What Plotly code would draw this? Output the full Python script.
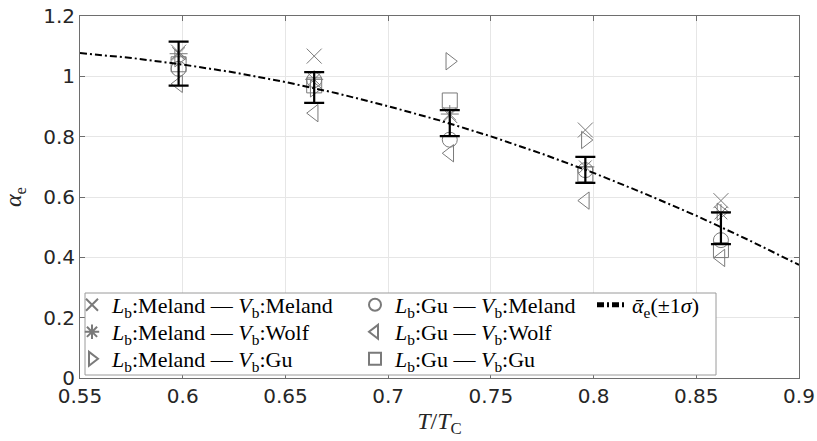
import plotly.graph_objects as go

# ---- data ----
T = [0.598, 0.664, 0.730, 0.796, 0.862]
meland_meland = [1.080, 1.067, 0.870, 0.822, 0.588]
meland_wolf   = [1.075, 0.990, 0.875, 0.700, 0.547]
meland_gu     = [1.060, 0.960, 1.050, 0.789, 0.551]
gu_meland     = [1.025, 0.988, 0.790, 0.689, 0.457]
gu_wolf       = [0.975, 0.878, 0.745, 0.588, 0.398]
gu_gu         = [1.040, 0.970, 0.920, 0.675, 0.424]

mean_alpha = [1.042, 0.963, 0.845, 0.690, 0.4965]
sigma      = [0.073, 0.051, 0.043, 0.043, 0.0525]

curve_T     = [0.55, 0.575, 0.60, 0.625, 0.65, 0.675, 0.70, 0.725, 0.75,
               0.775, 0.80, 0.825, 0.85, 0.875, 0.90]
curve_alpha = [1.077, 1.061, 1.039, 1.013, 0.981, 0.944, 0.901, 0.854, 0.801,
               0.743, 0.680, 0.611, 0.538, 0.459, 0.375]

x_ticks = [0.55, 0.6, 0.65, 0.7, 0.75, 0.8, 0.85, 0.9]
y_ticks = [0, 0.2, 0.4, 0.6, 0.8, 1.0, 1.2]
x_ticklabels = ["0.55", "0.6", "0.65", "0.7", "0.75", "0.8", "0.85", "0.9"]
y_ticklabels = ["0", "0.2", "0.4", "0.6", "0.8", "1", "1.2"]

series_names = [
    "<i>L</i><sub>b</sub>:Meland — <i>V</i><sub>b</sub>:Meland",
    "<i>L</i><sub>b</sub>:Meland — <i>V</i><sub>b</sub>:Wolf",
    "<i>L</i><sub>b</sub>:Meland — <i>V</i><sub>b</sub>:Gu",
    "<i>L</i><sub>b</sub>:Gu — <i>V</i><sub>b</sub>:Meland",
    "<i>L</i><sub>b</sub>:Gu — <i>V</i><sub>b</sub>:Wolf",
    "<i>L</i><sub>b</sub>:Gu — <i>V</i><sub>b</sub>:Gu",
]
series_values = [meland_meland, meland_wolf, meland_gu, gu_meland, gu_wolf, gu_gu]
series_symbols = ["x-thin-open", "asterisk-open", "triangle-right-open",
                  "circle-open", "triangle-left-open", "square-open"]
mean_name = "<i>ᾱ</i><sub>e</sub>(±1<i>σ</i>)"

GRAY = "#7a7a7a"
SERIF = "Liberation Serif"

# plot area in px: x 80..799, y 16..378
L, R, TOP, BOT = 80, 799, 16, 378
W, H = R - L, BOT - TOP

def px(xp):
    return (xp - L) / W

def py(yp):
    return (BOT - yp) / H

# legend cell positions (legend box left x, row centre y) in px
leg_x = [72, 72, 72, 355, 355, 355, 592]
leg_y = [305, 332, 359, 305, 332, 359, 305]

fig = go.Figure()

legends = {}
for i, (name, vals, sym) in enumerate(zip(series_names, series_values, series_symbols)):
    key = "legend" if i == 0 else f"legend{i + 1}"
    fig.add_trace(go.Scatter(
        x=T, y=vals, mode="markers", name=name, legend=key,
        marker=dict(symbol=sym, size=15, color=GRAY,
                    line=dict(color=GRAY, width=1)),
    ))

fig.add_trace(go.Scatter(
    x=curve_T, y=curve_alpha, mode="lines",
    name=mean_name, legend="legend7",
    line=dict(color="black", width=2, dash="7px,3px,2px,3px"),
))

fig.add_trace(go.Scatter(
    x=T, y=mean_alpha, mode="markers", showlegend=False,
    marker=dict(size=2, color="black"),
    error_y=dict(type="data", array=sigma, visible=True,
                 color="black", thickness=2.2, width=10),
))

fig.add_shape(type="rect", xref="paper", yref="paper",
              x0=px(85), x1=px(716), y0=py(375), y1=py(293),
              line=dict(color="#9a9a9a", width=1), fillcolor="white",
              layer="above")

for i in range(7):
    key = "legend" if i == 0 else f"legend{i + 1}"
    legends[key] = dict(
        x=px(leg_x[i]), y=py(leg_y[i]), xanchor="left", yanchor="middle",
        bgcolor="rgba(0,0,0,0)", borderwidth=0, itemwidth=30,
        font=dict(family=SERIF, size=22, color="black"),
        orientation="v", itemsizing="constant",
    )

fig.update_layout(
    width=817, height=441,
    margin=dict(l=L, r=817 - R, t=TOP, b=441 - BOT, autoexpand=False),
    plot_bgcolor="white", paper_bgcolor="white",
    **legends,
    xaxis=dict(range=[0.55, 0.9], tickvals=x_ticks, ticktext=x_ticklabels,
               showgrid=True, gridcolor="#e6e6e6", zeroline=False,
               showline=True, linecolor="#6e6e6e", linewidth=1, mirror="ticks",
               ticks="inside", ticklen=5, tickcolor="#6e6e6e",
               tickfont=dict(family="DejaVu Sans", size=20, color="#262626"),
               title=dict(text="<i>T</i>/<i>T</i><sub>C</sub>", standoff=5,
                          font=dict(family=SERIF, size=24, color="#262626"))),
    yaxis=dict(range=[0, 1.2], tickvals=y_ticks, ticktext=y_ticklabels,
               showgrid=True, gridcolor="#e6e6e6", zeroline=False,
               showline=True, linecolor="#6e6e6e", linewidth=1, mirror="ticks",
               ticks="inside", ticklen=5, tickcolor="#6e6e6e",
               tickfont=dict(family="DejaVu Sans", size=20, color="#262626"),
               title=dict(text="<i>α</i><sub>e</sub>", standoff=20,
                          font=dict(family=SERIF, size=24, color="#262626"))),
)

fig.write_html("out.html", config={"displayModeBar": False},
               post_script="document.body.style.margin = '0px';")
